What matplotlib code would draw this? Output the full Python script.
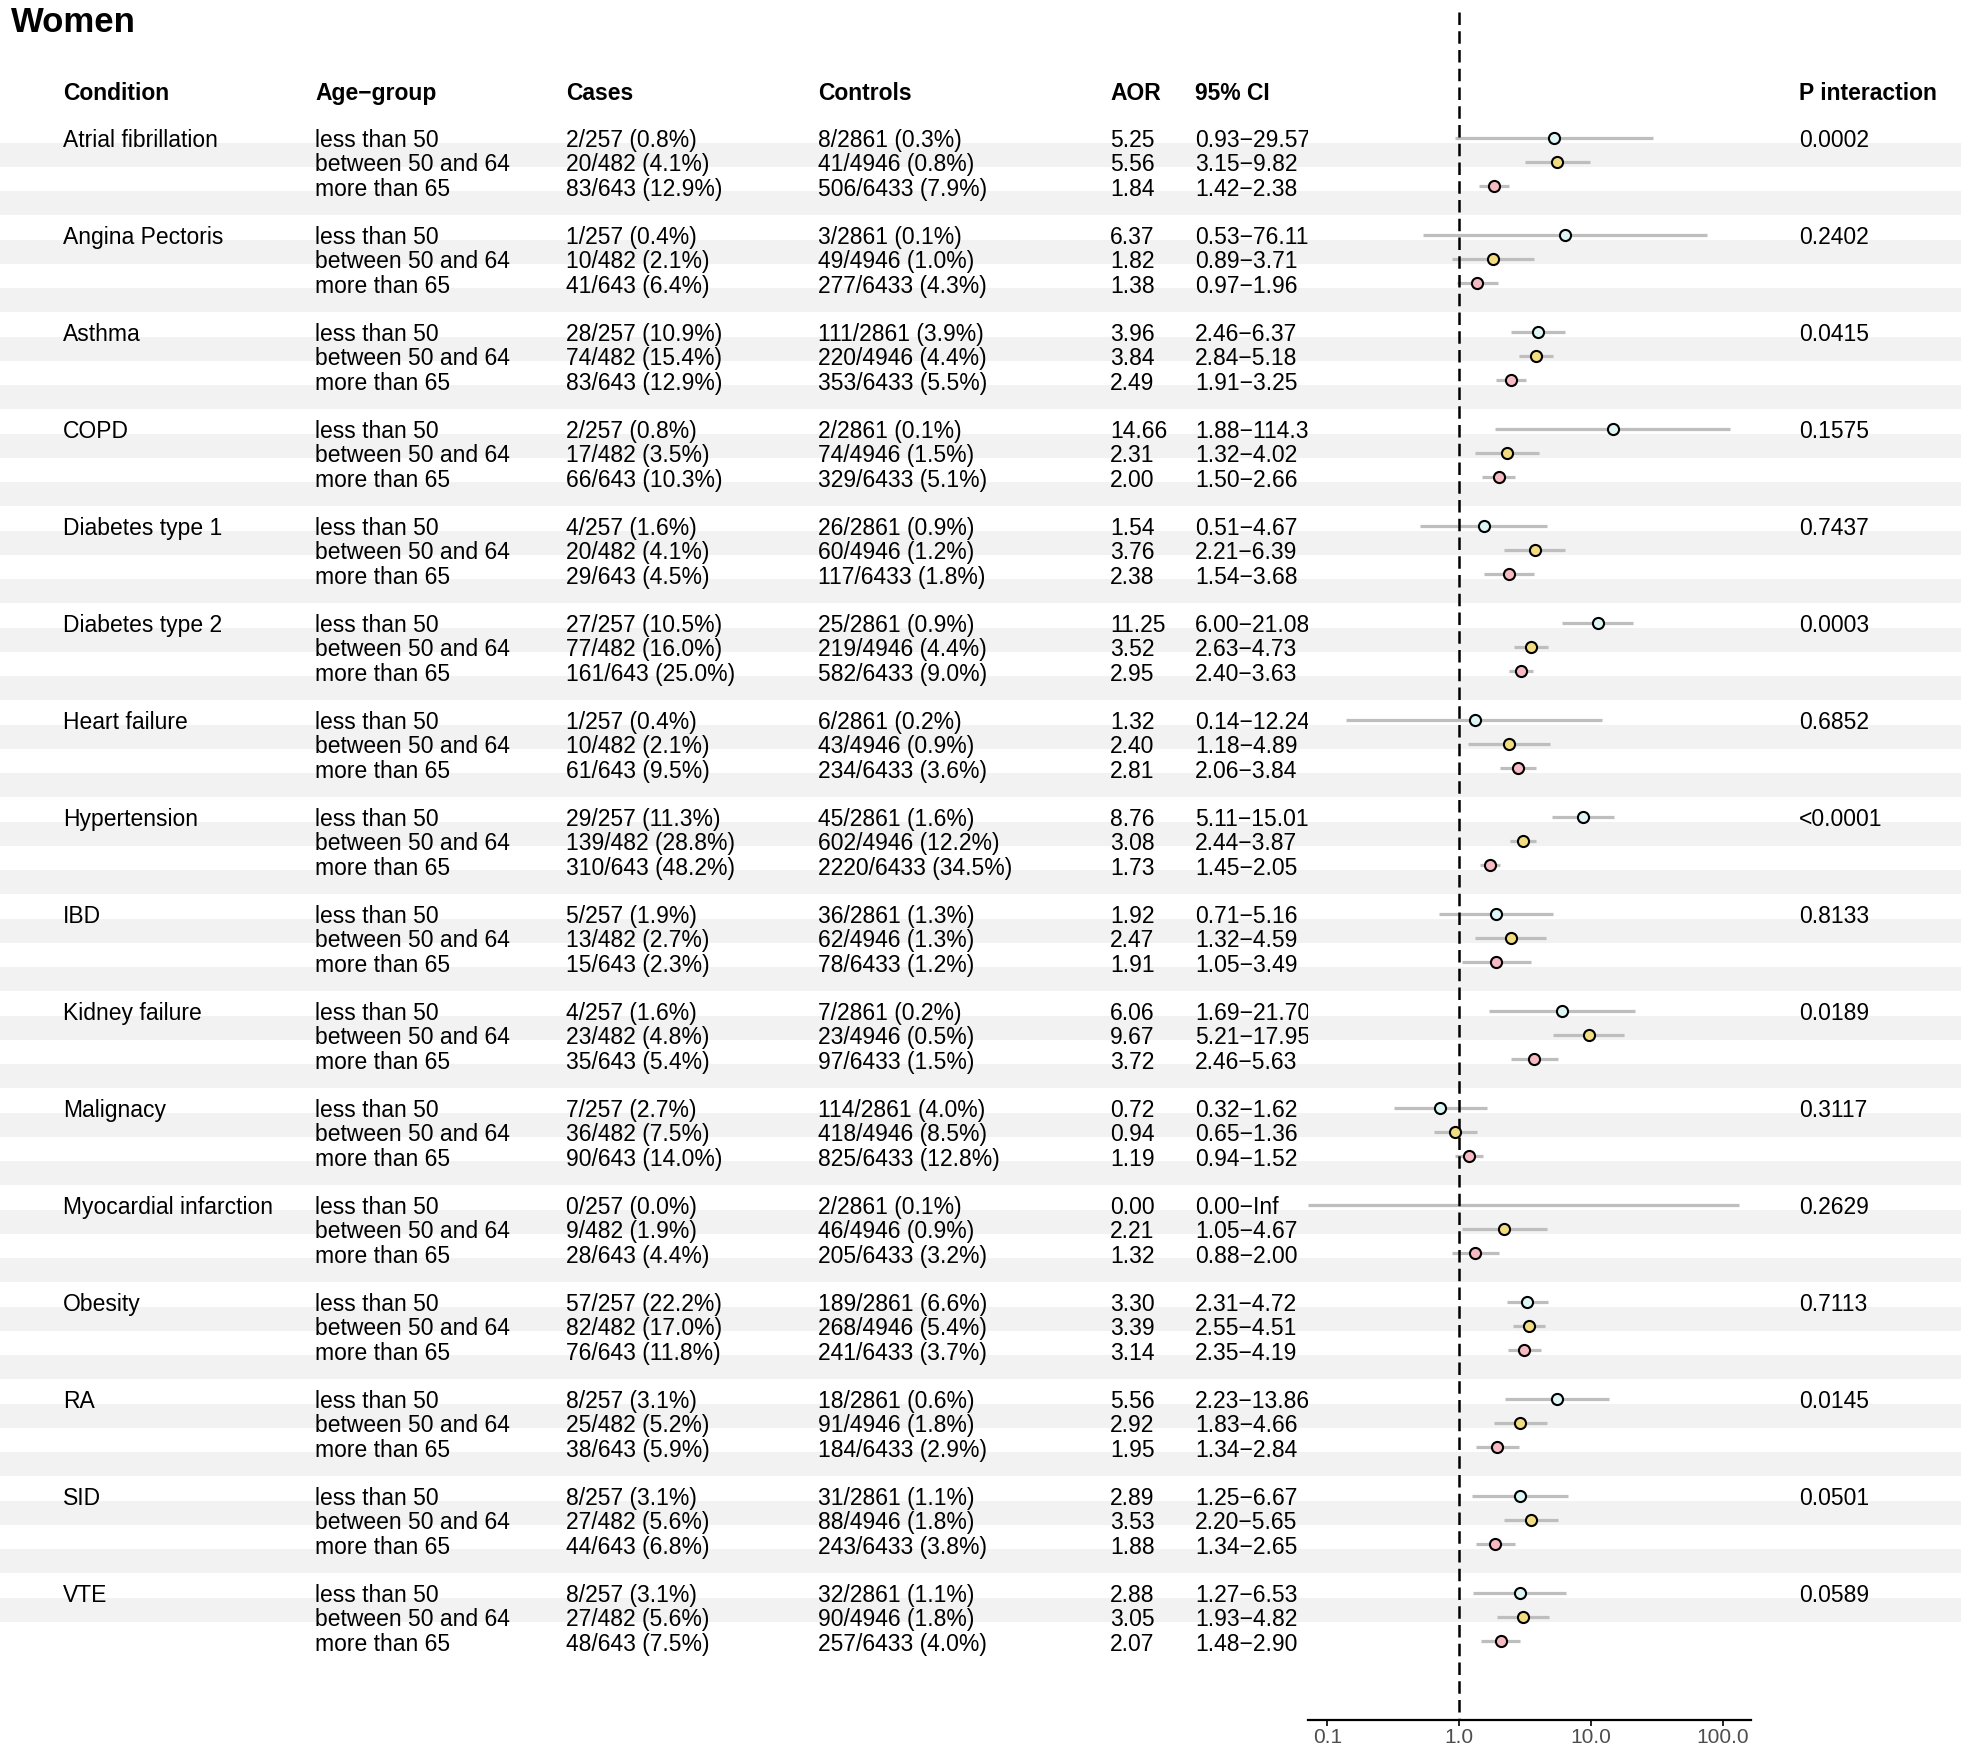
import numpy as np
import matplotlib
matplotlib.use("Agg")
from matplotlib import pyplot as plt
from matplotlib.ticker import NullLocator

plt.rcParams['font.family'] = ['Liberation Sans', 'DejaVu Sans']

conditions = ["Atrial fibrillation", "Angina Pectoris", "Asthma", "COPD",
              "Diabetes type 1", "Diabetes type 2", "Heart failure", "Hypertension",
              "IBD", "Kidney failure", "Malignacy", "Myocardial infarction",
              "Obesity", "RA", "SID", "VTE"]
p_interaction = ["0.0002", "0.2402", "0.0415", "0.1575", "0.7437", "0.0003", "0.6852",
                 "<0.0001", "0.8133", "0.0189", "0.3117", "0.2629", "0.7113", "0.0145",
                 "0.0501", "0.0589"]
age_groups = ["less than 50", "between 50 and 64", "more than 65"]

cases = ["2/257 (0.8%)", "20/482 (4.1%)", "83/643 (12.9%)",
         "1/257 (0.4%)", "10/482 (2.1%)", "41/643 (6.4%)",
         "28/257 (10.9%)", "74/482 (15.4%)", "83/643 (12.9%)",
         "2/257 (0.8%)", "17/482 (3.5%)", "66/643 (10.3%)",
         "4/257 (1.6%)", "20/482 (4.1%)", "29/643 (4.5%)",
         "27/257 (10.5%)", "77/482 (16.0%)", "161/643 (25.0%)",
         "1/257 (0.4%)", "10/482 (2.1%)", "61/643 (9.5%)",
         "29/257 (11.3%)", "139/482 (28.8%)", "310/643 (48.2%)",
         "5/257 (1.9%)", "13/482 (2.7%)", "15/643 (2.3%)",
         "4/257 (1.6%)", "23/482 (4.8%)", "35/643 (5.4%)",
         "7/257 (2.7%)", "36/482 (7.5%)", "90/643 (14.0%)",
         "0/257 (0.0%)", "9/482 (1.9%)", "28/643 (4.4%)",
         "57/257 (22.2%)", "82/482 (17.0%)", "76/643 (11.8%)",
         "8/257 (3.1%)", "25/482 (5.2%)", "38/643 (5.9%)",
         "8/257 (3.1%)", "27/482 (5.6%)", "44/643 (6.8%)",
         "8/257 (3.1%)", "27/482 (5.6%)", "48/643 (7.5%)"]

controls = ["8/2861 (0.3%)", "41/4946 (0.8%)", "506/6433 (7.9%)",
            "3/2861 (0.1%)", "49/4946 (1.0%)", "277/6433 (4.3%)",
            "111/2861 (3.9%)", "220/4946 (4.4%)", "353/6433 (5.5%)",
            "2/2861 (0.1%)", "74/4946 (1.5%)", "329/6433 (5.1%)",
            "26/2861 (0.9%)", "60/4946 (1.2%)", "117/6433 (1.8%)",
            "25/2861 (0.9%)", "219/4946 (4.4%)", "582/6433 (9.0%)",
            "6/2861 (0.2%)", "43/4946 (0.9%)", "234/6433 (3.6%)",
            "45/2861 (1.6%)", "602/4946 (12.2%)", "2220/6433 (34.5%)",
            "36/2861 (1.3%)", "62/4946 (1.3%)", "78/6433 (1.2%)",
            "7/2861 (0.2%)", "23/4946 (0.5%)", "97/6433 (1.5%)",
            "114/2861 (4.0%)", "418/4946 (8.5%)", "825/6433 (12.8%)",
            "2/2861 (0.1%)", "46/4946 (0.9%)", "205/6433 (3.2%)",
            "189/2861 (6.6%)", "268/4946 (5.4%)", "241/6433 (3.7%)",
            "18/2861 (0.6%)", "91/4946 (1.8%)", "184/6433 (2.9%)",
            "31/2861 (1.1%)", "88/4946 (1.8%)", "243/6433 (3.8%)",
            "32/2861 (1.1%)", "90/4946 (1.8%)", "257/6433 (4.0%)"]

aor = [5.25, 5.56, 1.84, 6.37, 1.82, 1.38, 3.96, 3.84, 2.49, 14.66, 2.31, 2.00,
       1.54, 3.76, 2.38, 11.25, 3.52, 2.95, 1.32, 2.40, 2.81, 8.76, 3.08, 1.73,
       1.92, 2.47, 1.91, 6.06, 9.67, 3.72, 0.72, 0.94, 1.19, 0.00, 2.21, 1.32,
       3.30, 3.39, 3.14, 5.56, 2.92, 1.95, 2.89, 3.53, 1.88, 2.88, 3.05, 2.07]
ci_lo = [0.93, 3.15, 1.42, 0.53, 0.89, 0.97, 2.46, 2.84, 1.91, 1.88, 1.32, 1.50,
         0.51, 2.21, 1.54, 6.00, 2.63, 2.40, 0.14, 1.18, 2.06, 5.11, 2.44, 1.45,
         0.71, 1.32, 1.05, 1.69, 5.21, 2.46, 0.32, 0.65, 0.94, 0.00, 1.05, 0.88,
         2.31, 2.55, 2.35, 2.23, 1.83, 1.34, 1.25, 2.20, 1.34, 1.27, 1.93, 1.48]
ci_hi = [29.57, 9.82, 2.38, 76.11, 3.71, 1.96, 6.37, 5.18, 3.25, 114.38, 4.02, 2.66,
         4.67, 6.39, 3.68, 21.08, 4.73, 3.63, 12.24, 4.89, 3.84, 15.01, 3.87, 2.05,
         5.16, 4.59, 3.49, 21.70, 17.95, 5.63, 1.62, 1.36, 1.52, np.inf, 4.67, 2.00,
         4.72, 4.51, 4.19, 13.86, 4.66, 2.84, 6.67, 5.65, 2.65, 6.53, 4.82, 2.90]

group_colors = ["#DDF7F7", "#F1DC80", "#F7B9C2"]

# layout in pixels
W, H = 1961, 1753
y0, step = 137.7, 24.25
txt_dy = 3
panel_left, panel_right = 1308, 1751
x_one, decade = 1459, 131.8
axis_y = 1720
ci_cap = 133
col_x = [63, 315, 566, 818, 1110, 1195]
p_x = 1799
fs = 16.5

fig = plt.figure(figsize=(W / 100, H / 100), dpi=100)

bg = fig.add_axes([0, 0, 1, 1], zorder=0)
bg.set_xlim(0, W)
bg.set_ylim(H, 0)
bg.axis('off')

n_rows = 4 * len(conditions) - 1
for r in range(1, n_rows - 1, 2):
    yc = y0 + step * r
    bg.axhspan(yc - 0.8 * step, yc + 0.2 * step, color="#F2F2F2", lw=0)

bg.text(11, 19.5 + txt_dy, "Women", fontsize=25, fontweight='bold', va='center', ha='left')
bg.text(p_x, 90 + txt_dy, "P interaction", fontsize=fs, fontweight='bold', va='center')

tab = fig.add_axes([0, 0, panel_left / W, 1], zorder=1)
tab.set_xlim(0, panel_left)
tab.set_ylim(H, 0)
tab.axis('off')

headers = ["Condition", "Age\u2212group", "Cases", "Controls", "AOR", "95% CI"]
for hx, h in zip(col_x, headers):
    tab.text(hx, 90 + txt_dy, h, fontsize=fs, fontweight='bold', va='center')

def ci_text(lo, hi):
    hs = "Inf" if np.isinf(hi) else "%.2f" % hi
    return "%.2f\u2212%s" % (lo, hs)

for i, cond in enumerate(conditions):
    yc = y0 + step * 4 * i + txt_dy
    tab.text(col_x[0], yc, cond, fontsize=fs, va='center')
    bg.text(p_x, yc, p_interaction[i], fontsize=fs, va='center')
    for j, ag in enumerate(age_groups):
        k = 3 * i + j
        y = y0 + step * (4 * i + j) + txt_dy
        vals = [ag, cases[k], controls[k], "%.2f" % aor[k], ci_text(ci_lo[k], ci_hi[k])]
        for cx, v in zip(col_x[1:], vals):
            tab.text(cx, y, v, fontsize=fs, va='center', clip_on=True)

fx = fig.add_axes([panel_left / W, 0, (panel_right - panel_left) / W, 1], zorder=2)
fx.patch.set_alpha(0)
fx.set_xscale('log')
xmin = 10 ** ((panel_left - x_one) / decade)
xmax = 10 ** ((panel_right - x_one) / decade)
fx.set_xlim(xmin, xmax)
fx.set_ylim(H, 0)
for s in ['top', 'right', 'left']:
    fx.spines[s].set_visible(False)
fx.spines['bottom'].set_position(('data', axis_y))
fx.spines['bottom'].set_linewidth(1.6)
fx.set_yticks([])
fx.set_xticks([0.1, 1, 10, 100])
fx.set_xticklabels(["0.1", "1.0", "10.0", "100.0"])
fx.xaxis.set_minor_locator(NullLocator())
fx.tick_params(axis='x', length=4, width=1.2, labelcolor="#4D4D4D", labelsize=15, pad=2)

rows = np.array([4 * i + j for i in range(len(conditions)) for j in range(3)])
ys = y0 + step * rows
lo = np.clip(np.array(ci_lo), xmin, None)
hi = np.clip(np.array(ci_hi), None, ci_cap)
fx.hlines(ys, lo, hi, color="#BEBEBE", lw=2.3, zorder=2)
fx.plot([1, 1], [12, axis_y], color='black', lw=1.8, ls=(0, (5, 2.5)), zorder=3)

aor_a = np.array(aor)
for j in range(3):
    sel = (np.arange(len(aor)) % 3 == j) & (aor_a > 0)
    fx.plot(aor_a[sel], ys[sel], 'o', ms=8, mfc=group_colors[j], mec='black',
            mew=1.5, zorder=4, clip_on=False)

fig.savefig("out.png", dpi=100)
